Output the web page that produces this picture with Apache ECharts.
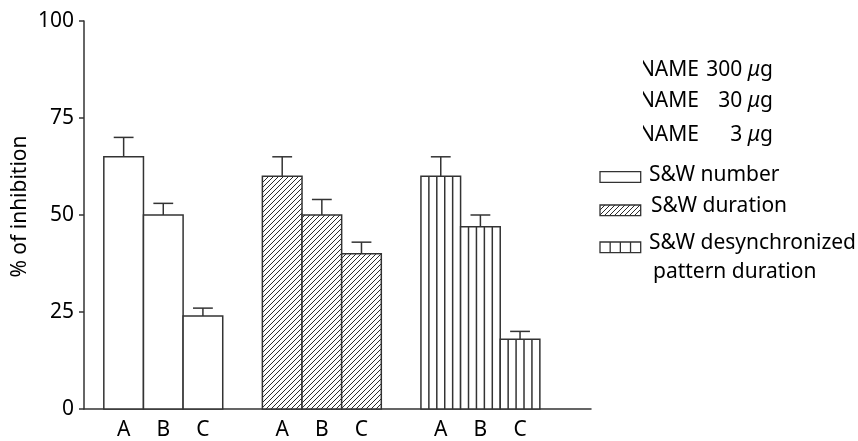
<!DOCTYPE html>
<html>
<head>
<meta charset="utf-8">
<script src="https://cdn.jsdelivr.net/npm/echarts@6/dist/echarts.min.js"></script>
<style>
  html, body { margin: 0; padding: 0; background: #fff; }
  #chart { width: 858px; height: 441px; }
</style>
</head>
<body>
<div id="chart"></div>
<script>
// Doses within each measure
const categories = ['A', 'B', 'C'];
// Measures (one group of bars each)
const measureNames = ['S&W number', 'S&W duration', 'S&W desynchronized', 'pattern duration'];
// Mean % of inhibition and SEM per dose
const numberMean = [65, 50, 24];
const numberSem = [5, 3, 2];
const durationMean = [60, 50, 40];
const durationSem = [5, 4, 3];
const desyncMean = [60, 47, 18];
const desyncSem = [5, 3, 2];
// Y tick labels
const yTicks = [0, 25, 50, 75, 100];
// Dose key
const doseNames = ['L-NAME', 'L-NAME', 'L-NAME'];
const doseAmounts = ['300', '30', '3'];

const FONT = '"Noto Sans", "Open Sans", sans-serif';
const FS = 21;
const INK = '#000';
const LINE = '#333';
const X_MAX = 12.79;

// x position of bar i in group g: one empty slot between groups
function slot(g, i) { return g * 4 + i + 1; }

function buildData(means, sems, g) {
  return means.map((m, i) => [slot(g, i), m, sems[i]]);
}

// diagonal "/" hatch clipped to a rectangle, aligned to a global grid
function hatchLines(L, T, R, B, step, style) {
  const out = [];
  const c0 = Math.ceil((L + T) / step) * step;
  for (let c = c0; c <= R + B; c += step) {
    const x1 = Math.max(L, c - B);
    const x2 = Math.min(R, c - T);
    if (x2 - x1 < 0.3) continue;
    out.push({
      type: 'line',
      shape: { x1: x1, y1: c - x1, x2: x2, y2: c - x2 },
      style: style
    });
  }
  return out;
}

function stripeLines(L, T, R, B, n, style) {
  const out = [];
  for (let k = 1; k < n; k++) {
    const x = L + (R - L) * k / n;
    out.push({ type: 'line', shape: { x1: x, y1: T, x2: x, y2: B }, style: style });
  }
  return out;
}

function makeRenderer(pattern) {
  return function (params, api) {
    const x = api.value(0), v = api.value(1), e = api.value(2);
    const tl = api.coord([x - 0.5, v]);
    const br = api.coord([x + 0.5, 0]);
    const top = api.coord([x, v + e]);
    const capL = api.coord([x - 0.25, v + e]);
    const capR = api.coord([x + 0.25, v + e]);
    const L = tl[0], T = tl[1], R = br[0], B = br[1];
    const children = [{
      type: 'rect',
      shape: { x: L, y: T, width: R - L, height: B - T },
      style: { fill: '#fff', stroke: null }
    }];
    if (pattern === 'hatch') {
      children.push(...hatchLines(L, T, R, B, 5, { stroke: '#2a2a2a', lineWidth: 1 }));
    } else if (pattern === 'stripes') {
      children.push(...stripeLines(L, T, R, B, 5, { stroke: LINE, lineWidth: 1.5 }));
    }
    children.push({
      type: 'rect',
      shape: { x: L, y: T, width: R - L, height: B - T },
      style: { fill: null, stroke: LINE, lineWidth: 1.5 }
    });
    children.push({
      type: 'line',
      shape: { x1: top[0], y1: T, x2: top[0], y2: top[1] },
      style: { stroke: LINE, lineWidth: 1.5 }
    });
    children.push({
      type: 'line',
      shape: { x1: capL[0], y1: capL[1], x2: capR[0], y2: capR[1] },
      style: { stroke: LINE, lineWidth: 1.5 }
    });
    return { type: 'group', children: children };
  };
}

function customSeries(name, data, pattern) {
  return {
    type: 'custom',
    name: name,
    data: data,
    encode: { x: 0, y: 1 },
    renderItem: makeRenderer(pattern),
    silent: true
  };
}

// Key on the right side
const graphics = [];
const textStyle = (t, x, y, align) => ({
  type: 'text', x: x, y: y,
  style: { text: t, font: FS + 'px ' + FONT, fill: INK, textAlign: align || 'left', textVerticalAlign: 'middle' }
});
const doseY = [70, 101, 135];
doseNames.forEach((n, k) => {
  graphics.push(textStyle(n, 699, doseY[k], 'right'));
  graphics.push({
    type: 'text', x: 773, y: doseY[k],
    style: {
      text: doseAmounts[k] + ' {u|\u03bc}g',
      font: FS + 'px ' + FONT, fill: INK, textAlign: 'right', textVerticalAlign: 'middle',
      rich: { u: { fontStyle: 'italic', fontSize: FS, fontFamily: FONT, fill: INK } }
    }
  });
});
// left margin of the key is trimmed
graphics.push({ type: 'rect', shape: { x: 590, y: 50, width: 53, height: 100 }, style: { fill: '#fff' }, z: 200 });

const boxW = 40.7, boxH = 10.7;
graphics.push({ type: 'rect', shape: { x: 600, y: 171.7, width: boxW, height: boxH }, style: { fill: '#fff', stroke: LINE, lineWidth: 1.3 } });
graphics.push(textStyle(measureNames[0], 649, 175.5));
graphics.push({ type: 'rect', shape: { x: 600, y: 205, width: boxW, height: boxH }, style: { fill: '#fff', stroke: null } });
hatchLines(600, 205, 600 + boxW, 205 + boxH, 5, { stroke: '#2a2a2a', lineWidth: 1 }).forEach(l => graphics.push(l));
graphics.push({ type: 'rect', shape: { x: 600, y: 205, width: boxW, height: boxH }, style: { fill: null, stroke: LINE, lineWidth: 1.3 } });
graphics.push(textStyle(measureNames[1], 651, 206));
graphics.push({ type: 'rect', shape: { x: 600, y: 242, width: boxW, height: boxH }, style: { fill: '#fff', stroke: LINE, lineWidth: 1.3 } });
stripeLines(600, 242, 600 + boxW, 242 + boxH, 4, { stroke: LINE, lineWidth: 1.3 }).forEach(l => graphics.push(l));
graphics.push(textStyle(measureNames[2], 649, 243));
graphics.push(textStyle(measureNames[3], 653, 272));
// y-axis title
graphics.push({
  type: 'text', x: 20, y: 206.5, rotation: Math.PI / 2,
  style: { text: '% of inhibition', font: FS + 'px ' + FONT, fill: INK, textAlign: 'center', textVerticalAlign: 'middle' }
});

const chart = echarts.init(document.getElementById('chart'), null, { renderer: 'canvas' });
chart.setOption({
  animation: false,
  backgroundColor: '#fff',
  grid: { left: 84, top: 21, width: 507, height: 388 },
  xAxis: {
    type: 'value', min: 0, max: X_MAX, interval: 1,
    splitLine: { show: false },
    axisTick: { show: false },
    axisLine: { show: true, onZero: false, lineStyle: { color: LINE, width: 1.5 } },
    axisLabel: {
      margin: 11, fontSize: FS, fontFamily: FONT, color: INK,
      showMinLabel: true, showMaxLabel: false,
      formatter: function (val) {
        if (Math.abs(val - Math.round(val)) > 1e-6) return '';
        const p = Math.round(val) - 1;
        if (p < 0) return '';
        const g = Math.floor(p / 4), i = p % 4;
        return (g < 3 && i < 3) ? categories[i] : '';
      }
    }
  },
  yAxis: {
    type: 'value', min: yTicks[0], max: yTicks[yTicks.length - 1], interval: yTicks[1] - yTicks[0],
    splitLine: { show: false },
    axisLine: { show: true, lineStyle: { color: LINE, width: 1.5 } },
    axisTick: { show: true, length: 5, lineStyle: { color: LINE, width: 1.5 } },
    axisLabel: { margin: 10, fontSize: FS, fontFamily: FONT, color: INK }
  },
  series: [
    customSeries('S&W number', buildData(numberMean, numberSem, 0), 'none'),
    customSeries('S&W duration', buildData(durationMean, durationSem, 1), 'hatch'),
    customSeries('S&W desynchronized pattern duration', buildData(desyncMean, desyncSem, 2), 'stripes')
  ],
  graphic: graphics
});
</script>
</body>
</html>
